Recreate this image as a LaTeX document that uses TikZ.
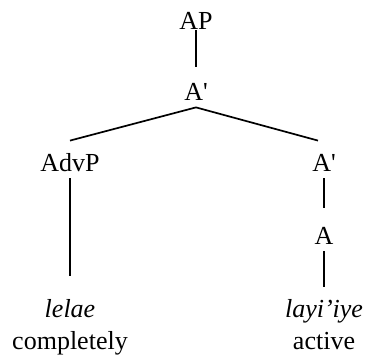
\documentclass[tikz,border=0pt]{standalone}
\usepackage{fontspec}
\setmainfont{Liberation Serif}
\usetikzlibrary{positioning}
\newcommand{\treesize}{\fontsize{13pt}{15.6pt}\selectfont}

\begin{document}
\begin{tikzpicture}[
    node distance=35.5pt and 63pt,
    on grid,
    every node/.style={font=\treesize, inner sep=0pt, text height=9pt, text depth=3pt},
    word/.style={font=\treesize\itshape},
    br/.style={line width=0.85pt}
]
    \useasboundingbox (0,0) rectangle (183pt,-181pt);

    \node                                  (AP)    at (98pt,-12pt) {AP};
    \node[below=of AP]                     (Abar)  {A\textquotesingle};
    \node[below left=of Abar]              (AdvP)  {AdvP};
    \node[below right=35.5pt and 64pt of Abar] (Abar2) {A\textquotesingle};
    \node[below=36.5pt of Abar2]           (A)     {A};
    \node[word, below=73pt of AdvP]        (lelae) {lelae};
    \node[word, below=36.5pt of A]         (layi)  {layi'iye};
    \node[below=16pt of lelae]             (gl1)   {completely};
    \node[below=16pt of layi]              (gl2)   {active};

    \draw[br] (AP.base)    -- ([yshift=8pt]Abar.north);
    \draw[br] (Abar.south) -- ([yshift=6.5pt]AdvP.north);
    \draw[br] (Abar.south) -- ([xshift=-3pt, yshift=6.5pt]Abar2.north);
    \draw[br] (AdvP.south) -- ([yshift=12pt]lelae.north);
    \draw[br] (Abar2.south) -- ([yshift=9.5pt]A.north);
    \draw[br] (A.south)    -- ([yshift=6.5pt]layi.north);
\end{tikzpicture}
\end{document}
